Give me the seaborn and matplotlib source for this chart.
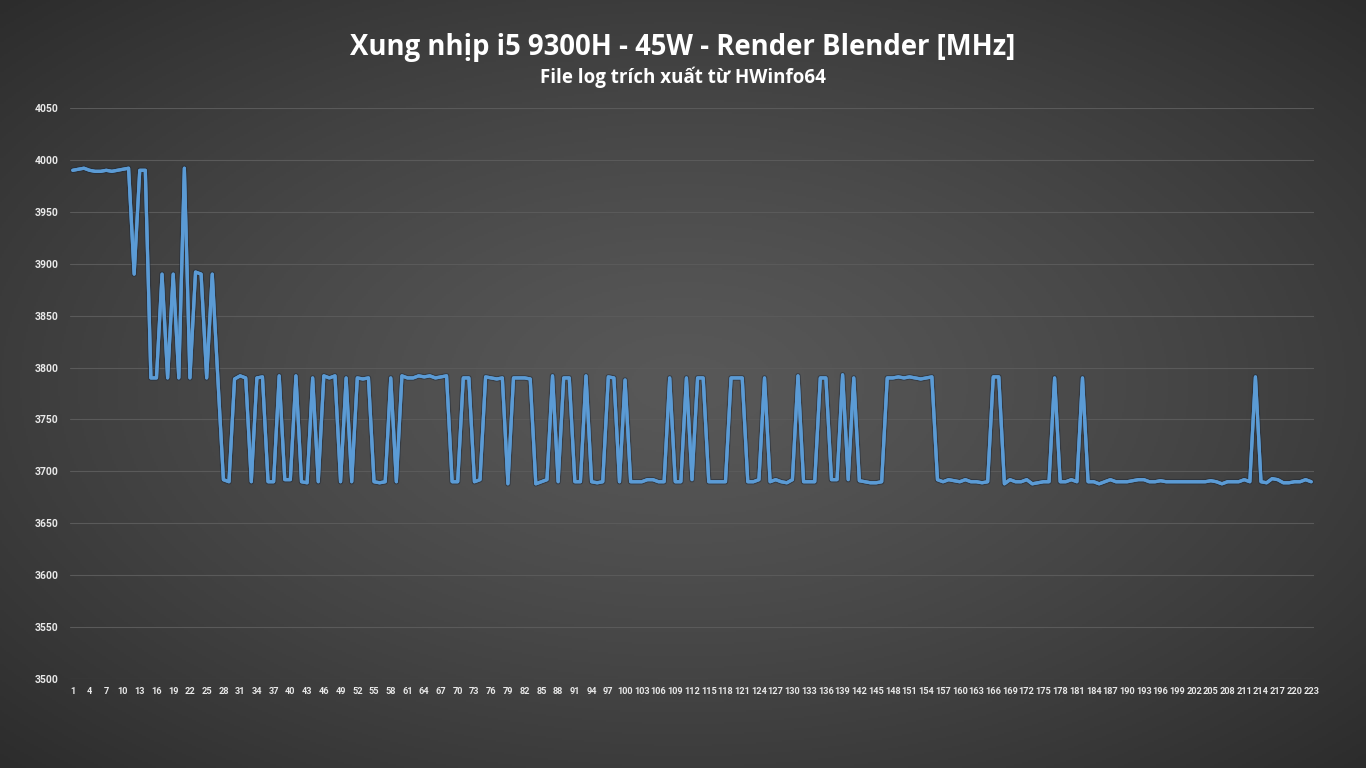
import numpy as np
import matplotlib
matplotlib.use('Agg')
import matplotlib.pyplot as plt
import matplotlib.patheffects as pe
import seaborn as sns

# CPU clock samples (MHz)
turbo_start = [3990, 3991, 3992, 3990, 3989, 3989, 3990, 3989, 3990, 3991, 3992,
               3890, 3990, 3990, 3790, 3790, 3890, 3790, 3890, 3790, 3992, 3790,
               3892, 3890, 3790, 3890, 3790]
mixed_phase = [3692, 3690, 3789, 3792, 3790, 3690, 3790, 3791, 3690, 3690,
               3792, 3692, 3692, 3792, 3690, 3689, 3790, 3690, 3792, 3790,
               3792, 3690, 3790, 3690, 3790, 3789, 3790, 3690, 3689, 3690,
               3790, 3690, 3792, 3790, 3790, 3792, 3791, 3792, 3790, 3791,
               3792, 3690, 3690, 3790, 3790, 3690, 3692, 3791, 3790, 3789,
               3790, 3688, 3790, 3790, 3790, 3789, 3688, 3690, 3692, 3792,
               3690, 3790, 3790, 3690, 3690, 3792, 3690, 3689, 3690, 3791,
               3790, 3690, 3788, 3690, 3690, 3690, 3692, 3692, 3690, 3690,
               3790, 3690, 3690, 3790, 3692, 3790, 3790, 3690, 3690, 3690,
               3690, 3790, 3790, 3790, 3690, 3690, 3692, 3790, 3690, 3692,
               3690, 3689, 3692, 3792, 3690, 3690, 3690, 3790, 3790, 3692,
               3692, 3793, 3692, 3790, 3691, 3690, 3689, 3689, 3690, 3790,
               3790, 3791, 3790, 3791, 3790, 3789, 3790, 3791]
base_phase = [3692, 3690, 3692, 3691, 3690, 3692, 3690, 3690, 3689, 3690,
              3791, 3791, 3688, 3692, 3690, 3690, 3692, 3688, 3689, 3690,
              3690, 3790, 3690, 3690, 3692, 3690, 3790, 3690, 3690, 3688,
              3690, 3692, 3690, 3690, 3690, 3691, 3692, 3692, 3690, 3690,
              3691, 3690, 3690, 3690, 3690, 3690, 3690, 3690, 3690, 3691,
              3690, 3688, 3690, 3690, 3690, 3692, 3690, 3791, 3690, 3689,
              3693, 3692, 3689, 3689, 3690, 3690, 3692, 3690]

clock_mhz = turbo_start + mixed_phase + base_phase
samples = np.arange(1, len(clock_mhz) + 1)
assert len(clock_mhz) == 223

y_ticks = list(range(3500, 4051, 50))
x_ticks = list(range(1, 224, 3))

title = 'Xung nhịp i5 9300H - 45W - Render Blender [MHz]'
subtitle = 'File log trích xuất từ HWinfo64'

sns.set_style('dark')
plt.rcParams['font.family'] = ['Open Sans', 'DejaVu Sans']

fig = plt.figure(figsize=(13.66, 7.68), dpi=100)
fig.patch.set_facecolor('#333333')

# radial grey background
bg = fig.add_axes([0, 0, 1, 1], zorder=0)
gx, gy = np.meshgrid(np.linspace(-1, 1, 683), np.linspace(-1, 1, 384))
r = np.clip(np.sqrt(gx ** 2 + gy ** 2) / np.sqrt(2), 0, 1)
c0 = np.array([0x58, 0x58, 0x58]) / 255
c1 = np.array([0x2c, 0x2c, 0x2c]) / 255
img = c0 + (c1 - c0) * (r[..., None] ** 1.3)
bg.imshow(img, aspect='auto', extent=[0, 1, 0, 1])
bg.set_axis_off()

ax = fig.add_axes([70 / 1366, 1 - 679 / 768, 1244 / 1366, 571 / 768], zorder=1)
ax.set_facecolor('none')

sns.lineplot(x=samples, y=clock_mhz, ax=ax, color='#5b9bd5', linewidth=2.3,
             path_effects=[pe.withStroke(linewidth=4.0, foreground='#1e2836', alpha=0.5),
                           pe.Normal()])

ax.set_xlim(0.5, 223.5)
ax.set_ylim(3500, 4050)
ax.set_yticks(y_ticks)
ax.set_xticks(x_ticks)
ax.set_xticklabels([str(t) for t in x_ticks])
ax.grid(axis='y', color='#5a5a5a', linewidth=0.8)
ax.grid(axis='x', visible=False)
for s in ax.spines.values():
    s.set_visible(False)
ax.tick_params(axis='y', length=0, pad=8, labelsize=7.5, labelcolor='#e8e8e8')
ax.tick_params(axis='x', length=0, pad=6, labelsize=6.6, labelcolor='#e8e8e8')
for lbl in ax.get_xticklabels() + ax.get_yticklabels():
    lbl.set_fontweight('bold')
    lbl.set_family(['Roboto', 'DejaVu Sans'])
ax.set_xlabel('')
ax.set_ylabel('')

fig.text(0.5, 1 - 47 / 768, title, ha='center', va='center', color='white',
         fontsize=19.8, fontweight='bold')
fig.text(0.5, 1 - 77 / 768, subtitle, ha='center', va='center', color='white',
         fontsize=13.5, fontweight='bold')

fig.savefig('out.png', dpi=100, facecolor=fig.get_facecolor())
